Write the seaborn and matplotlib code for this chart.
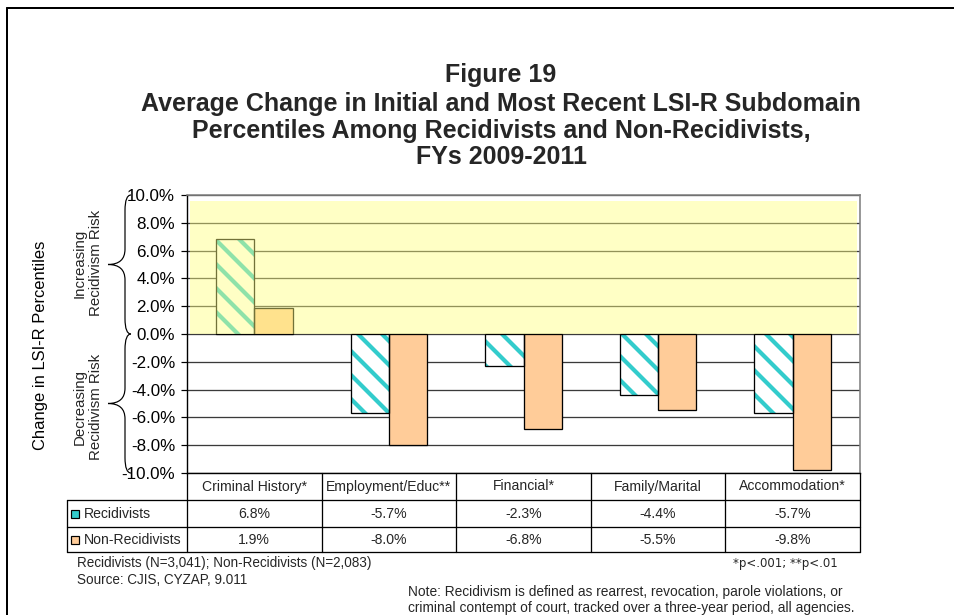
import matplotlib
matplotlib.use("Agg")
import matplotlib.pyplot as plt
import matplotlib.transforms as mtransforms
from matplotlib.patches import Rectangle, PathPatch
from matplotlib.path import Path
from matplotlib.lines import Line2D
from matplotlib.ticker import PercentFormatter
import pandas as pd
import seaborn as sns

# ---- data -------------------------------------------------------------
categories = ["Criminal History*", "Employment/Educ**", "Financial*",
              "Family/Marital", "Accommodation*"]
groups = ["Recidivists", "Non-Recidivists"]
recidivists = [6.8, -5.7, -2.3, -4.4, -5.7]
non_recidivists = [1.9, -8.0, -6.8, -5.5, -9.8]
y_ticks = [-10, -8, -6, -4, -2, 0, 2, 4, 6, 8, 10]

title_lines = ["Figure 19",
               "Average Change in Initial and Most Recent LSI-R Subdomain",
               "Percentiles Among Recidivists and Non-Recidivists,",
               "FYs 2009-2011"]

TEAL = "#33CCCC"
PEACH = "#FFCC99"

# ---- style --------------------------------------------------------------
sns.set_theme(style="white")
plt.rcParams["font.family"] = ["Liberation Sans", "DejaVu Sans"]
plt.rcParams["axes.unicode_minus"] = False
plt.rcParams["hatch.linewidth"] = 4.2

W, H, DPI = 954, 615, 72
fig = plt.figure(figsize=(W / DPI, H / DPI), dpi=DPI)
fig.patch.set_facecolor("white")


def fx(px):
    return px / W


def fy(py):
    return 1 - py / H


AX_L, AX_R, AX_T, AX_B = 187, 860, 195, 473
ax = fig.add_axes([fx(AX_L), fy(AX_B), (AX_R - AX_L) / W, (AX_B - AX_T) / H])

df = pd.DataFrame({
    "Subdomain": categories * 2,
    "Group": [groups[0]] * len(categories) + [groups[1]] * len(categories),
    "Change": recidivists + non_recidivists,
})

sns.barplot(data=df, x="Subdomain", y="Change", hue="Group",
            order=categories, hue_order=groups,
            palette={groups[0]: "white", groups[1]: PEACH},
            saturation=1, width=0.57, errorbar=None,
            edgecolor="black", linewidth=1.3, legend=False,
            ax=ax, zorder=2)

# teal diagonal stripes for the recidivist bars, with a black outline on top
for bar in ax.containers[0]:
    bar.set_hatch("\\")
    bar.set_edgecolor(TEAL)
    bar.set_linewidth(0)
    ax.add_patch(Rectangle(bar.get_xy(), bar.get_width(), bar.get_height(),
                           fill=False, edgecolor="black", lw=1.3, zorder=2.5))

ax.set_xlim(-0.5, 4.5)
ax.set_ylim(-10, 10)
ax.set_yticks(y_ticks)
ax.yaxis.set_major_formatter(PercentFormatter(decimals=1))
ax.set_xticks([])
ax.set_xlabel("")
ax.set_ylabel("Change in LSI-R Percentiles", fontsize=16.5, color="black")
ax.yaxis.set_label_coords((48 - AX_L) / (AX_R - AX_L), (AX_B - 345) / (AX_B - AX_T))
ax.tick_params(axis="y", left=True, direction="out", length=6, width=1.2,
               pad=6, labelsize=17, colors="black")

ax.set_axisbelow(True)
ax.yaxis.grid(True, color="#3a3a3a", lw=1.3)
ax.xaxis.grid(False)
for side in ("left", "bottom"):
    ax.spines[side].set_color("black")
    ax.spines[side].set_linewidth(1.4)
for side in ("top", "right"):
    ax.spines[side].set_color("#808080")
    ax.spines[side].set_linewidth(1.6)

# pale yellow band over the "increasing risk" half
ax.add_patch(Rectangle((-0.478, 0), 4.956, 9.57, facecolor=(1, 1, 0.5),
                       alpha=0.45, lw=0, zorder=3))

# ---- braces and side labels --------------------------------------------
brace_tr = mtransforms.blended_transform_factory(fig.transFigure, ax.transData)


def brace(top, bot, xe=131, xv=125, xt=108, r=1.1):
    ym = (top + bot) / 2
    verts = [(fx(xe), top), (fx(xv), top), (fx(xv), top - r),
             (fx(xv), ym + r), (fx(xv), ym), (fx(xt), ym),
             (fx(xv), ym), (fx(xv), ym - r),
             (fx(xv), bot + r), (fx(xv), bot), (fx(xe), bot)]
    codes = [Path.MOVETO, Path.CURVE3, Path.CURVE3,
             Path.LINETO, Path.CURVE3, Path.CURVE3,
             Path.CURVE3, Path.CURVE3,
             Path.LINETO, Path.CURVE3, Path.CURVE3]
    ax.add_patch(PathPatch(Path(verts, codes), transform=brace_tr, fill=False,
                           edgecolor="black", lw=1.2, clip_on=False, zorder=5))


brace(10, 0)
brace(0, -10)

fig.text(fx(88), fy(263), "Increasing\nRecidivism Risk", rotation=90,
         ha="center", va="center", multialignment="center", fontsize=15)
fig.text(fx(88), fy(407), "Decreasing\nRecidivism Risk", rotation=90,
         ha="center", va="center", multialignment="center", fontsize=15)

# ---- title ------------------------------------------------------------------
for text, y in zip(title_lines, [82, 110.5, 137.5, 164.5]):
    fig.text(fx(501), fy(y), text, ha="center", va="baseline",
             fontsize=25, fontweight="bold")

# ---- data table under the axis ---------------------------------------------
fig.canvas.draw()
edges_px = [ax.transData.transform((i - 0.5, 0))[0] for i in range(len(categories) + 1)]
centers_px = [ax.transData.transform((i, 0))[0] for i in range(len(categories))]
TBL_L = 67
ROWS = [473, 500, 527, 552]


def line(x0, y0, x1, y1, color="black", lw=1.3):
    fig.add_artist(Line2D([fx(x0), fx(x1)], [fy(y0), fy(y1)],
                          transform=fig.transFigure, color=color, lw=lw))


for y in ROWS[1:]:
    line(TBL_L, y, edges_px[-1], y)
line(TBL_L, ROWS[1], TBL_L, ROWS[3])
for x in edges_px:
    line(x, ROWS[0], x, ROWS[3])

for cx, name in zip(centers_px, categories):
    fig.text(fx(cx), fy((ROWS[0] + ROWS[1]) / 2), name, ha="center",
             va="center", fontsize=14)
for row, (label, values, face) in enumerate(zip(groups, [recidivists, non_recidivists],
                                                [TEAL, PEACH])):
    yc = (ROWS[row + 1] + ROWS[row + 2]) / 2
    fig.add_artist(Rectangle((fx(71), fy(yc + 4)), 8 / W, 8 / H, transform=fig.transFigure,
                             facecolor=face, edgecolor="black", lw=1.2))
    fig.text(fx(84), fy(yc), label, ha="left", va="center", fontsize=14)
    for cx, v in zip(centers_px, values):
        fig.text(fx(cx), fy(yc), f"{v:.1f}%", ha="center", va="center", fontsize=14)

# ---- notes ------------------------------------------------------------------
fig.text(fx(77), fy(563), "Recidivists (N=3,041); Non-Recidivists (N=2,083)",
         ha="left", va="center", fontsize=13.5)
fig.text(fx(77), fy(580), "Source: CJIS, CYZAP, 9.011", ha="left", va="center",
         fontsize=13.5)
fig.text(fx(838), fy(563), "*p<.001; **p<.01", ha="right", va="center",
         fontsize=11.8, family="DejaVu Sans")
fig.text(fx(408), fy(592),
         "Note: Recidivism is defined as rearrest, revocation, parole violations, or",
         ha="left", va="center", fontsize=13.8)
fig.text(fx(408), fy(608),
         "criminal contempt of court, tracked over a three-year period, all agencies.",
         ha="left", va="center", fontsize=13.8)

# outer frame
line(7, 8, 7, H + 5, lw=2)
line(7, 8, W + 5, 8, lw=2)

fig.savefig("out.png", dpi=DPI, facecolor="white")
